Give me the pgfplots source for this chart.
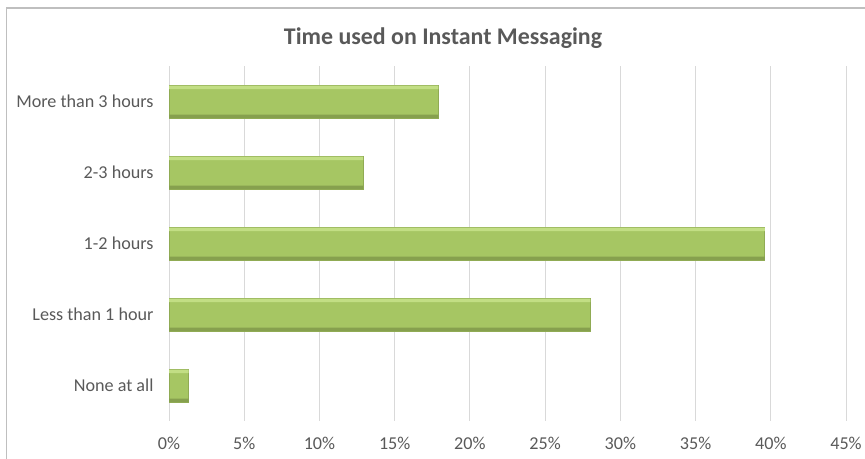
\documentclass[border=0pt]{standalone}
\usepackage{pgfplots}
\pgfplotsset{compat=1.18}
\usepackage{fontspec}
\setmainfont{Carlito}
\definecolor{barmain}{HTML}{A6C663}
\definecolor{barlight}{HTML}{C2DE84}
\definecolor{bardark}{HTML}{86A04E}
\definecolor{gridc}{HTML}{D9D9D9}
\definecolor{txt}{HTML}{595959}
\definecolor{framec}{HTML}{BFBFBF}
\pgfplotstableread{
y val
0 1.3
1 28.0
2 39.6
3 12.9
4 17.9
}\datatable
\begin{document}
\begin{tikzpicture}[x=1bp,y=1bp]
\useasboundingbox (0,0) rectangle (865,459);
\draw[framec, line width=1.2bp] (6.5,0) -- (6.5,451) -- (866,451);
\begin{axis}[
  at={(169bp,38bp)}, anchor=south west,
  scale only axis, width=677bp, height=355bp,
  xmin=0, xmax=45, ymin=-0.5, ymax=4.5,
  xtick={0,5,...,45},
  xticklabel={\pgfmathprintnumber{\tick}\%},
  ytick={0,1,2,3,4},
  yticklabels={None at all,Less than 1 hour,1-2 hours,2-3 hours,More than 3 hours},
  /pgf/number format/assume math mode=true,
  xmajorgrids, major grid style={gridc, line width=1bp},
  axis line style={draw=none},
  major tick length=0pt,
  tick label style={font=\fontsize{18.2}{21}\selectfont, text=txt},
  xticklabel style={yshift=-13bp},
  yticklabel style={xshift=-12bp},
  clip=false,
]
\addplot[xbar, bar width=0.46, bar shift=0, fill=barmain, draw=bardark!70!barmain, line width=0.6bp] table[x=val,y=y]{\datatable};
\addplot[xbar, bar width=0.05, bar shift=0.2, fill=barlight, draw=none] table[x=val,y=y]{\datatable};
\addplot[xbar, bar width=0.045, bar shift=-0.2075, fill=bardark, draw=none] table[x=val,y=y]{\datatable};
\end{axis}
\node[font=\fontsize{24}{28}\selectfont\bfseries, text=txt] at (443,421) {Time used on Instant Messaging};
\end{tikzpicture}
\end{document}
